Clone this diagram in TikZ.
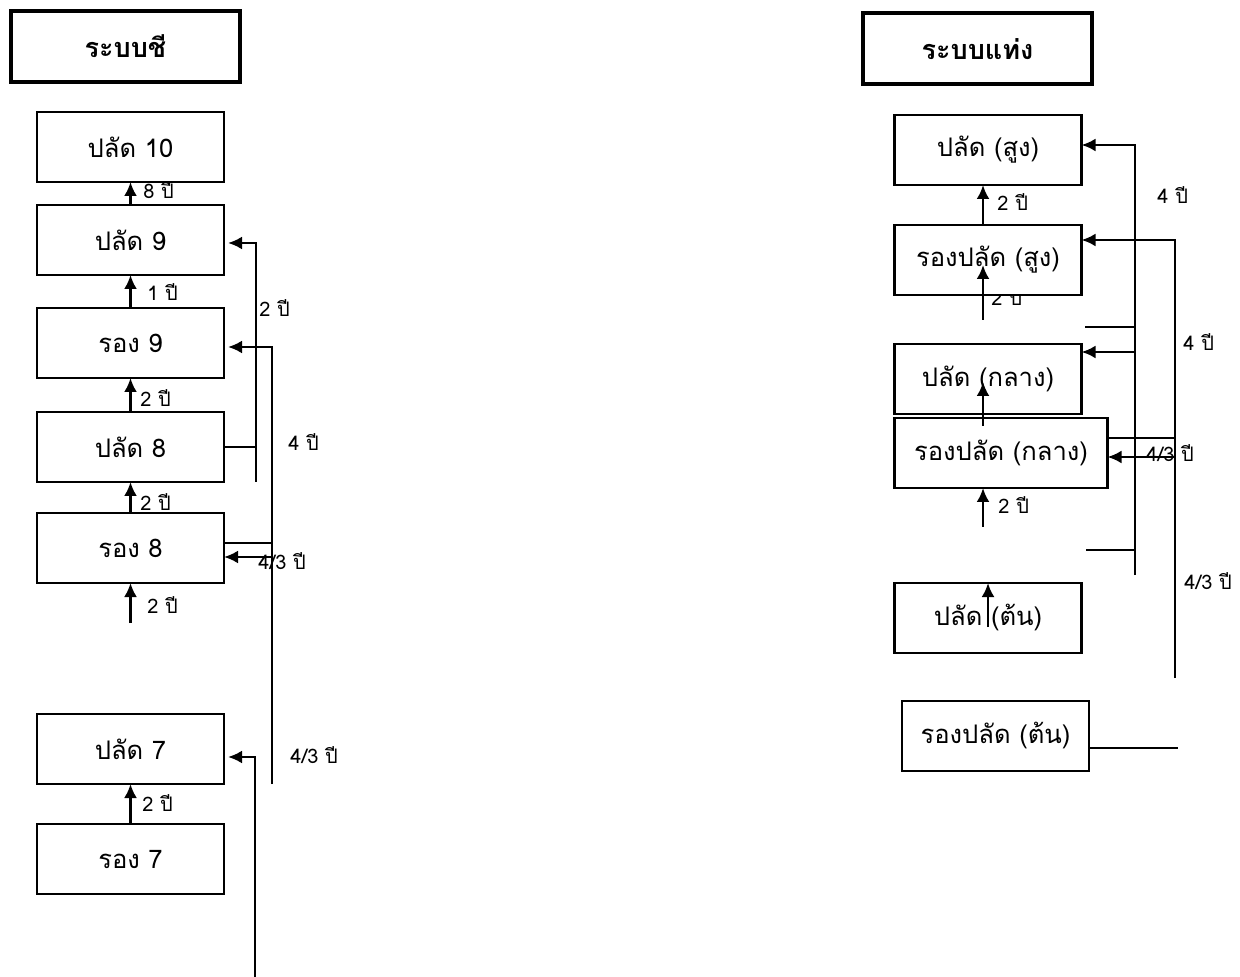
\documentclass[tikz,border=0pt]{standalone}
\usepackage{fontspec}
\usepackage{tikz}
\usetikzlibrary{shapes,arrows.meta,positioning}
\newfontfamily\thaifont[Script=Thai]{Loma}
\tikzstyle{head} = [rectangle, draw=black, line width=2pt, fill=white, text=black, text centered, font=\thaifont\bfseries\fontsize{13.5}{15}\selectfont, minimum width=114.5pt, minimum height=35.5pt, outer sep=0pt]
\tikzstyle{rank} = [rectangle, draw=black, line width=1.1pt, fill=white, text=black, text centered, font=\thaifont\fontsize{12.8}{14}\selectfont, minimum width=93.5pt, minimum height=35pt, outer sep=0pt]
\tikzstyle{yr} = [anchor=west, inner sep=0pt, font=\thaifont\fontsize{10}{11}\selectfont]
\tikzstyle{tedge}  = [draw, line width=1.3pt, >={Latex[length=7pt,width=6.5pt]}, ->]
\tikzstyle{tline}  = [draw, line width=0.9pt]

\begin{document}
\begin{tikzpicture}[x=0.5pt, y=-0.5pt]
\useasboundingbox (0,0) rectangle (1240,977);

% wet system =============================

\node[head] (chi) at (125.5,46.5) {ระบบชี};
\node[rank] (p10) at (130.5,147) {ปลัด 10};
\node[rank, below=11.5pt of p10] (p9) {ปลัด 9};
\node[rank, below=16.5pt of p9] (r9) {รอง 9};
\node[rank, below=17pt of r9] (p8) {ปลัด 8};
\node[rank, below=15.5pt of p8] (r8) {รอง 8};
\node[rank, below=65.5pt of r8] (p7) {ปลัด 7};
\node[rank, below=20pt of p7] (r7) {รอง 7};

% dry system =============================

% half hidden under the box
\node[yr] (y12) at (991,297) {2 ปี};

\node[head] (thaeng) at (977.5,49) {ระบบแท่ง};
\node[rank] (ps) at (988,150) {ปลัด (สูง)};
\node[rank, below=20pt of ps] (rs) {รองปลัด (สูง)};
\node[rank, below=24.5pt of rs] (pm) {ปลัด (กลาง)};
\node[rank, below=2pt of pm.south west, anchor=north west, minimum width=106.5pt] (rm) {รองปลัด (กลาง)};
\node[rank, below=47.5pt of rm, xshift=-6.5pt] (pt) {ปลัด (ต้น)};
\node[rank, below=24pt of pt, xshift=3.75pt] (rt) {รองปลัด (ต้น)};

% free ends
\coordinate[below=20pt of r8] (r8in);
\coordinate (a1) at ([xshift=16pt,yshift=-1.5pt]p9.east);
\coordinate (a2) at (a1 |- p8.south);
\coordinate (b1) at ([xshift=24pt,yshift=-2pt]r9.east);
\coordinate (b2) at (b1 |- p7.south);
\coordinate (r8t) at ([yshift=2.5pt]r8.east);
\coordinate (r8a) at ([yshift=-4.5pt]r8.east);
\coordinate (c1) at ([xshift=15.5pt,yshift=-4pt]p7.east);
\coordinate (c2) at ([yshift=-110pt]c1);

\coordinate (rsin) at ([xshift=-2.5pt,yshift=-12.5pt]rs.south);
\coordinate (rstip) at ([xshift=-2.5pt,yshift=15pt]rs.south);
\coordinate (rmin) at ([xshift=-9pt,yshift=-19.5pt]rm.south);
\coordinate (d1) at ([xshift=26.75pt,yshift=2.5pt]ps.east);
\coordinate (d2) at ([yshift=-215pt]d1);
\coordinate (d3) at ([yshift=-91pt]d1);
\coordinate (d3s) at ([xshift=-25pt]d3);
\coordinate (d4) at ([yshift=-202.5pt]d1);
\coordinate (d4s) at ([xshift=-24.5pt]d4);
\coordinate (pmA) at ([yshift=-4pt]pm.north east);
\coordinate (e1) at ([xshift=46.75pt,yshift=-7.5pt]rs.north east);
\coordinate (e2) at ([yshift=-219pt]e1);
\coordinate (rmT) at ([yshift=-10pt]rm.north east);
\coordinate (rmA) at ([yshift=-19.5pt]rm.north east);
\coordinate (rtS) at ([yshift=-6pt]rt.east);
\coordinate (rtE) at ([xshift=44.5pt]rtS);

%edges
\path[tedge] (p9) -- (p10);
\path[tedge] (r9) -- (p9);
\path[tedge] (p8) -- (r9);
\path[tedge] (r8) -- (p8);
\path[tedge] (r8in) -- (r8);
\path[tedge] (r7) -- (p7);

\path[tline] (p8.east) -- (p8.east -| a1);
\path[tedge, shorten >=2pt] (a2) -- (a1) -- (a1 -| p9.east);
\path[tedge, shorten >=2pt] (b2) -- (b1) -- (b1 -| r9.east);
\path[tline] (r8t) -- (r8t -| b1);
\path[tedge] (r8a -| b1) -- (r8a);
\path[tedge, shorten >=2pt] (c2) -- (c1) -- (c1 -| p7.east);

\path[tedge] ([xshift=-2.5pt]rs.north) -- ([xshift=-2.5pt]ps.south);
\path[tedge] (rsin) -- (rstip);
\path[tedge] ([xshift=-2.5pt,yshift=-6pt]pm.south) -- ([xshift=-2.5pt,yshift=16pt]pm.south);
\path[tedge] (rmin) -- ([xshift=-9pt]rm.south);
\path[tedge] ([yshift=-22pt]pt.north) -- (pt.north);

\path[tedge] (d2) -- (d1) -- (d1 -| ps.east);
\path[tline] (d3s) -- (d3);
\path[tline] (d4s) -- (d4);
\path[tedge] (pmA -| d1) -- (pmA);
\path[tedge] (e2) -- (e1) -- (e1 -| rs.east);
\path[tline] (rmT) -- (rmT -| e1);
\path[tedge] (rmA -| e1) -- (rmA);
\path[tline] (rtS) -- (rtE);

% years
\node[yr] (y1) at (143,190) {8 ปี};
\node[yr] (y2) at (147,292) {1 ปี};
\node[yr] (y3) at (140,398) {2 ปี};
\node[yr] (y4) at (140,502) {2 ปี};
\node[yr] (y5) at (147,605) {2 ปี};
\node[yr] (y6) at (142,803) {2 ปี};
\node[yr] (y7) at (259,308) {2 ปี};
\node[yr] (y8) at (288,442) {4 ปี};
\node[yr] (y9) at (258,561) {4/3 ปี};
\node[yr] (y10) at (290,755) {4/3 ปี};

\node[yr] (y11) at (997,202) {2 ปี};
\node[yr] (y13) at (998,505) {2 ปี};
\node[yr] (y14) at (1157,195) {4 ปี};
\node[yr] (y15) at (1183,342) {4 ปี};
\node[yr] (y16) at (1146,453) {4/3 ปี};
\node[yr] (y17) at (1184,581) {4/3 ปี};

\end{tikzpicture}
\end{document}
